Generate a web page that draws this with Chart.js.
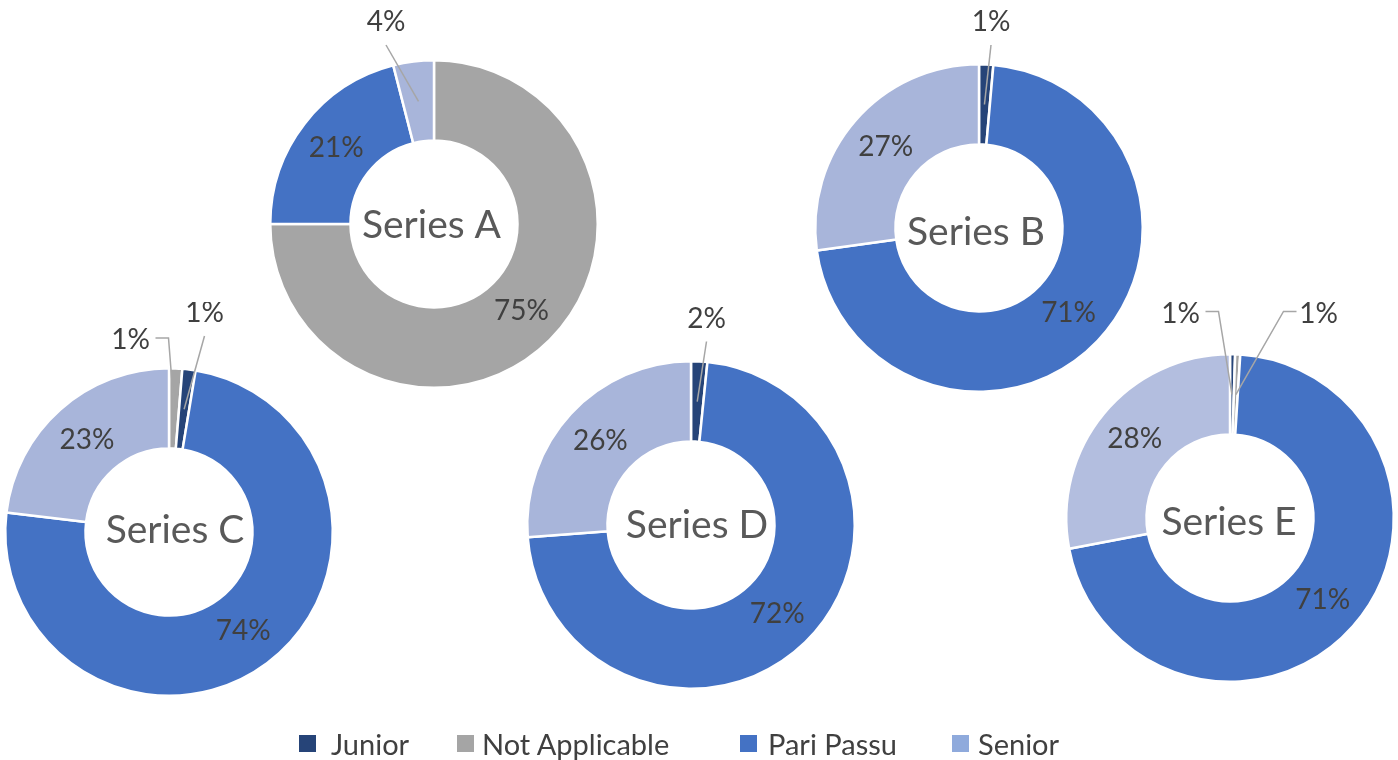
<!DOCTYPE html>
<html>
<head>
<meta charset="utf-8">
<script src="https://cdn.jsdelivr.net/npm/chart.js@4.4.1/dist/chart.umd.min.js"></script>
<style>
  html, body { margin: 0; padding: 0; background: #ffffff; }
  #stage { position: relative; width: 1398px; height: 760px; overflow: hidden; background: #ffffff; }
  canvas.donut { position: absolute; }
  .leg { position: absolute; top: 728px; font-family: Lato, "Open Sans", sans-serif; font-size: 29px; color: #404040; line-height: 32px; white-space: nowrap; }
  .sw { position: absolute; width: 17px; height: 17px; top: 735px; }
</style>
</head>
<body>
<div id="stage"></div>
<script>
// ---------------- DATA ----------------
const categories = ['Junior', 'Not Applicable', 'Pari Passu', 'Senior'];
const seriesNames = ['Series A', 'Series B', 'Series C', 'Series D', 'Series E'];
const seriesA = [0, 75, 21, 4];
const seriesB = [1.4, 0, 71.4, 27.2];
const seriesC = [1.3, 1.3, 74.3, 23.1];
const seriesD = [1.6, 0, 72.2, 26.2];
const seriesE = [0.5, 0.5, 71, 28];
// clockwise drawing order of categories (from 12 o'clock)
const orderDefault = [0, 1, 2, 3];
const orderC = [1, 0, 2, 3];

// ---------------- STYLE / LAYOUT ----------------
const catColors = ['#264478', '#A5A5A5', '#4472C4', '#A8B5DA'];
const legendColors = ['#264478', '#A5A5A5', '#4472C4', '#8FAADC'];
const seniorColorE = '#B3BEDF';
const CANVAS = 460;
const OUTER_R = 165;
const layout = {
  'Series A': { cx: 434, cy: 224, tdx: -2.5, tdy: 1 },
  'Series B': { cx: 979, cy: 228, tdx: -3, tdy: 4 },
  'Series C': { cx: 168.5, cy: 532, tdx: 6, tdy: -2 },
  'Series D': { cx: 690.5, cy: 524.5, tdx: 6, tdy: 0 },
  'Series E': { cx: 1229.5, cy: 517.5, tdx: -1, tdy: 4 }
};
// placement of small-slice labels (relative to doughnut centre) keyed by category index
const outside = {
  'Series A': { 3: { dx: -48, dy: -202, leader: 'above' } },
  'Series B': { 0: { dx: 12, dy: -206, leader: 'above' } },
  'Series C': { 1: { dx: -38.5, dy: -192, leader: 'elbowRight' }, 0: { dx: 35.5, dy: -219, leader: 'above' } },
  'Series D': { 0: { dx: 15.5, dy: -206.5, leader: 'above' } },
  'Series E': { 0: { dx: -49.5, dy: -204.5, leader: 'elbowRight' }, 1: { dx: 88.5, dy: -204.5, leader: 'elbowLeft' } }
};

const allSeries = [seriesA, seriesB, seriesC, seriesD, seriesE];
const orders = [orderDefault, orderDefault, orderC, orderDefault, orderDefault];

const labelPlugin = {
  id: 'donutLabels',
  afterDatasetsDraw(chart) {
    const ctx = chart.ctx;
    const ds = chart.data.datasets[0];
    const meta = chart.getDatasetMeta(0);
    const total = ds.data.reduce((a, b) => a + b, 0);
    const name = ds.label;
    const place = outside[name] || {};
    let cx = 0, cy = 0;
    meta.data.forEach((arc, i) => {
      const p = arc.getProps(['x', 'y', 'startAngle', 'endAngle', 'innerRadius', 'outerRadius'], true);
      cx = p.x; cy = p.y;
      const v = ds.data[i];
      if (!v) return;
      const pct = Math.round(v / total * 100) + '%';
      const mid = (p.startAngle + p.endAngle) / 2;
      const rm = (p.innerRadius + p.outerRadius) / 2;
      const ax = p.x + Math.cos(mid) * rm;
      const ay = p.y + Math.sin(mid) * rm;
      const cat = ds.catIndex[i];
      ctx.save();
      ctx.font = '28px Lato, "Open Sans", sans-serif';
      ctx.fillStyle = '#404040';
      ctx.textAlign = 'center';
      ctx.textBaseline = 'middle';
      const o = place[cat];
      if (o) {
        const lx = p.x + o.dx, ly = p.y + o.dy;
        ctx.fillText(pct, lx, ly);
        ctx.strokeStyle = '#A6A6A6';
        ctx.lineWidth = 1.5;
        ctx.beginPath();
        if (o.leader === 'above') {
          ctx.moveTo(lx, ly + 23);
          ctx.lineTo(ax, ay);
        } else if (o.leader === 'elbowRight') {
          ctx.moveTo(lx + 25, ly - 2);
          ctx.lineTo(lx + 38, ly - 2);
          ctx.lineTo(ax, ay);
        } else {
          ctx.moveTo(lx - 22, ly - 2);
          ctx.lineTo(lx - 35, ly - 2);
          ctx.lineTo(ax, ay);
        }
        ctx.stroke();
      } else {
        ctx.fillText(pct, ax, ay);
      }
      ctx.restore();
    });
    const L = layout[name];
    ctx.save();
    ctx.font = '39px Lato, "Open Sans", sans-serif';
    ctx.fillStyle = '#595959';
    ctx.textAlign = 'center';
    ctx.textBaseline = 'middle';
    ctx.fillText(name, cx + L.tdx, cy + L.tdy);
    ctx.restore();
  }
};

const stage = document.getElementById('stage');
seriesNames.forEach((name, s) => {
  const pos = layout[name];
  const cv = document.createElement('canvas');
  cv.className = 'donut';
  cv.width = CANVAS; cv.height = CANVAS;
  cv.style.width = CANVAS + 'px'; cv.style.height = CANVAS + 'px';
  cv.style.left = (pos.cx - CANVAS / 2) + 'px';
  cv.style.top = (pos.cy - CANVAS / 2) + 'px';
  stage.appendChild(cv);
  const ord = orders[s];
  const vals = ord.map(k => allSeries[s][k]);
  const cols = ord.map(k => (k === 3 && name === 'Series E') ? seniorColorE : catColors[k]);
  new Chart(cv, {
    type: 'doughnut',
    data: {
      labels: ord.map(k => categories[k]),
      datasets: [{
        label: name,
        data: vals,
        catIndex: ord,
        backgroundColor: cols,
        borderColor: '#ffffff',
        borderWidth: 2.5,
        hoverOffset: 0,
        offset: 0
      }]
    },
    options: {
      responsive: false,
      animation: false,
      devicePixelRatio: 1,
      cutout: '51%',
      layout: { padding: (CANVAS - 2 * OUTER_R) / 2 },
      plugins: { legend: { display: false }, tooltip: { enabled: false } },
      events: []
    },
    plugins: [labelPlugin]
  });
});

// legend (HTML)
const legendX = [{ sw: 299, tx: 331 }, { sw: 457, tx: 482 }, { sw: 740, tx: 768 }, { sw: 952, tx: 978 }];
categories.forEach((c, i) => {
  const sw = document.createElement('div');
  sw.className = 'sw';
  sw.style.left = legendX[i].sw + 'px';
  sw.style.background = legendColors[i];
  stage.appendChild(sw);
  const t = document.createElement('div');
  t.className = 'leg';
  t.style.left = legendX[i].tx + 'px';
  t.textContent = c;
  stage.appendChild(t);
});
</script>
</body>
</html>
